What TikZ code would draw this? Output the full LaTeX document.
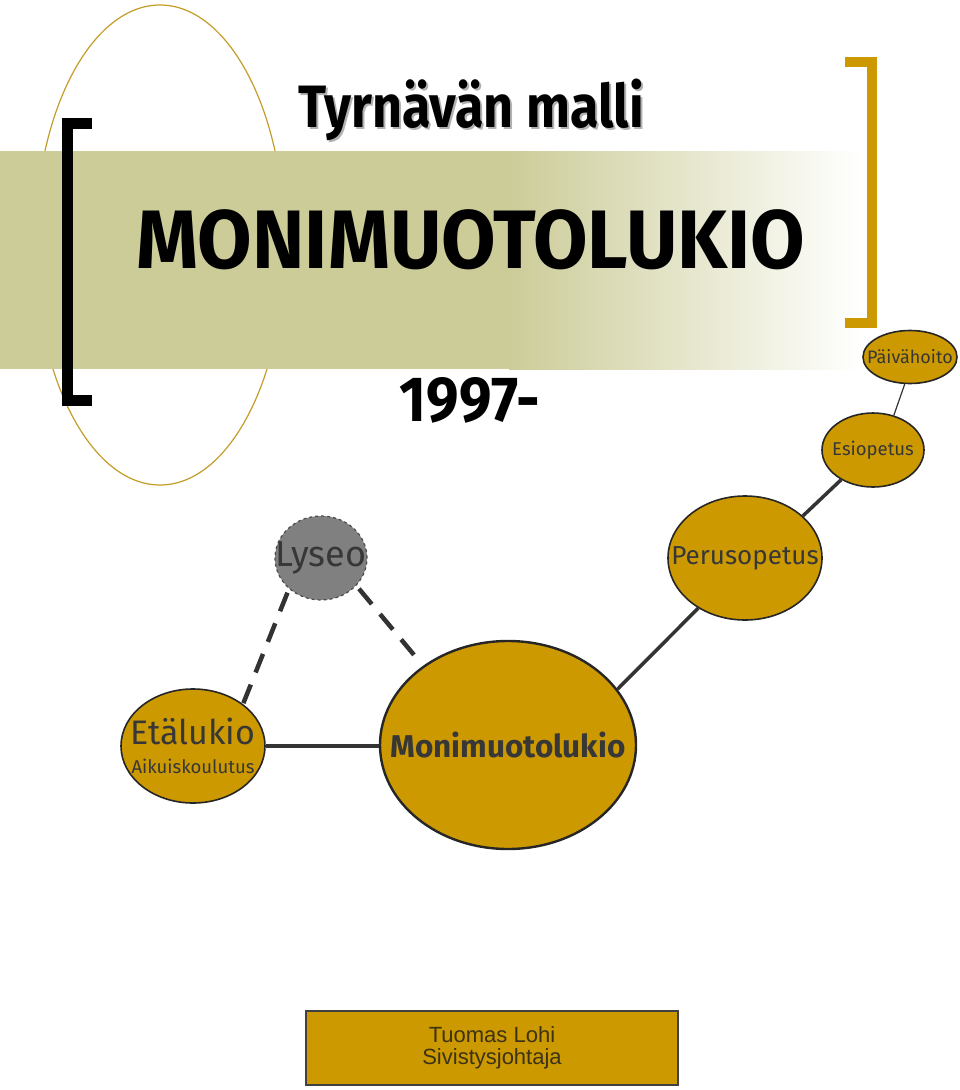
\documentclass[tikz,border=0pt]{standalone}
\usepackage{fontspec}
\setmainfont{Fira Sans}
\newfontfamily\comic{Fira Sans}
\newfontfamily\arial{Liberation Sans}
\usetikzlibrary{shapes, arrows, calc, positioning}

\definecolor{gold}{RGB}{204,153,0}
\definecolor{khaki}{RGB}{204,204,153}
\definecolor{ringgold}{RGB}{196,156,40}
\definecolor{textgray}{RGB}{55,55,55}
\definecolor{boxtext}{RGB}{60,50,20}

% text that does not widen its bubble
\newcommand{\inbubble}[1]{\makebox[0pt]{#1}}

\begin{document}
\begin{tikzpicture}[
    x=1pt, y=-1pt,
    thick,
    bubble/.style={
        ellipse,
        draw=black!85,
        line width=1.6pt,
        fill=gold,
        inner sep=0pt,
        align=center,
        text=textgray
    },
    link/.style={
        draw=black!80,
        line width=3.5pt
    },
    dashlink/.style={
        link,
        line width=4.5pt,
        dash pattern=on 20pt off 13pt
    },
    title/.style={
        font=\comic\bfseries,
        inner sep=0pt
    }
]
    \useasboundingbox (0,0) rectangle (960,1090);

    % Background ring and band
    \draw [ringgold, line width=1.2pt] (160,245) ellipse [x radius=125, y radius=240];
    \fill [khaki] (0,151) rectangle (510,369);
    \shade [left color=khaki, right color=white] (509,151) rectangle (862,369);

    % Brackets
    \draw [black, line width=11pt, line join=miter] (92,123) -- (67,123) -- (67,400) -- (92,400);
    \draw [gold, line width=10pt, line join=miter] (845,62) -- (872,62) -- (872,323) -- (845,323);

    % Titles
    \node [title, text=gray!60, yscale=1.15] (shadow) at (473,112) {\fontsize{52}{52}\selectfont Tyrnävän malli};
    \node [title, yscale=1.15] (heading) at (471,110) {\fontsize{52}{52}\selectfont Tyrnävän malli};
    \node [title, yscale=1.05] (main) at (471,240) {\fontsize{79}{79}\selectfont MONIMUOTOLUKIO};
    \node [title, yscale=1.1] (year) at (470,400) {\fontsize{58}{58}\selectfont 1997-};

    % Bubbles
    \node [bubble, minimum width=94pt, minimum height=53pt, font=\fontsize{18}{18}\selectfont] (paiva) at (910,357) {\inbubble{Päivähoito}};
    \node [bubble, minimum width=102pt, minimum height=74pt, font=\fontsize{18.5}{18.5}\selectfont] (esio) at (873,450) {\inbubble{Esiopetus}};
    \node [bubble, minimum width=154pt, minimum height=124pt, font=\fontsize{26}{26}\selectfont] (perus) at (745,558) {\inbubble{Perusopetus}};
    \node [bubble, fill=gray, draw=black!70, dashed, line width=1.2pt, minimum width=92pt, minimum height=84pt, font=\fontsize{36}{36}\selectfont] (lyseo) at (321,558) {\inbubble{Lyseo}};
    \node [bubble, minimum width=144pt, minimum height=114pt, font=\fontsize{18.5}{29}\selectfont] (etal) at (193,746) {\inbubble{\fontsize{34}{29}\selectfont Etälukio}\\\inbubble{Aikuiskoulutus}};
    \node [bubble, line width=2.4pt, minimum width=256pt, minimum height=208pt, font=\fontsize{31.5}{31.5}\selectfont\bfseries] (moni) at (508,745) {\inbubble{Monimuotolukio}};

    % Connections
    \draw [draw=black!80, line width=1.2pt] (paiva.259) -- (esio.59);
    \draw [link] (esio.223) -- (perus.36);
    \draw [link] (perus.227) -- (moni.27);
    \draw [link] (etal.east) -- (etal.east -| moni.west);
    \draw [dashlink, shorten <=4pt] (lyseo.224) -- (etal.40);
    \draw [dashlink, shorten <=4pt, shorten >=10pt] (lyseo.322) -- (moni.137);

    % Signature
    \node [draw=black!75, line width=1.2pt, fill=gold, minimum width=372pt, minimum height=74pt, align=center, text=boxtext, font=\arial\fontsize{22}{26}\selectfont, inner sep=0pt] (sign) at (492,1048) {\raisebox{-4pt}{Tuomas Lohi}\\Sivistysjohtaja};

\end{tikzpicture}
\end{document}
